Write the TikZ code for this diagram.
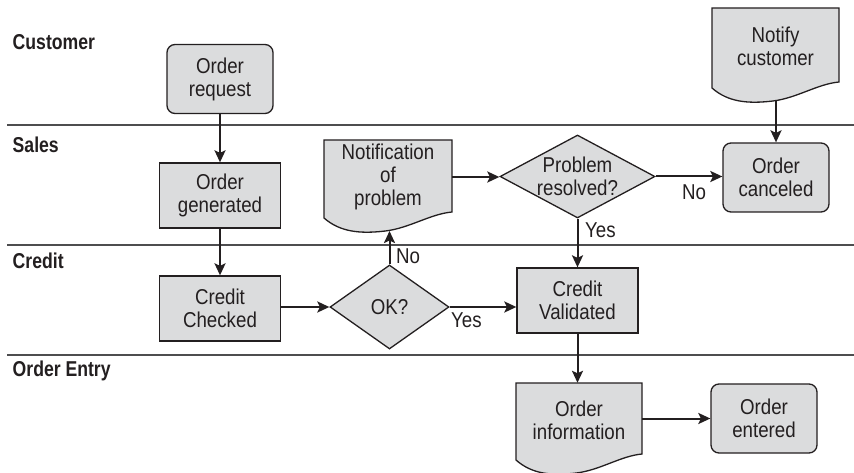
\documentclass[tikz,border=0pt]{standalone}
\usepackage{fontspec}
\usepackage{graphicx}
\setmainfont{Liberation Sans}
\newfontfamily\nodefontfam[FakeStretch=0.87]{Liberation Sans}
\usetikzlibrary{shapes.geometric,arrows.meta,calc}
\definecolor{boxfill}{HTML}{DBDCDD}
\definecolor{linecol}{HTML}{231F20}
\definecolor{lanecol}{HTML}{4D4D4F}
\newcommand\nodetxt{\nodefontfam\fontsize{21.5}{23}\selectfont}
\newcommand\lanetxt{\bfseries\fontsize{21.5}{23}\selectfont}
\newcommand\lanetext[1]{\scalebox{0.82}[1]{#1}}
\newcommand\DocShape[4]{% x0 x1 top ybottom
  \pgfmathsetmacro\dw{#2-#1}
  \filldraw[docbox] (#1,#3) -- (#2,#3) -- (#2,#4-6)
    .. controls (#1+0.83*\dw,#4-4) and (#1+0.67*\dw,#4+10) .. (#1+0.48*\dw,#4+13)
    .. controls (#1+0.28*\dw,#4+16) and (#1+0.125*\dw,#4+14) .. (#1,#4) -- cycle;}
\tikzset{
  proc/.style={draw=linecol, fill=boxfill, line width=1.3pt, minimum width=121pt,
    minimum height=65pt, inner sep=0pt, align=center, font=\nodetxt, text=linecol},
  term/.style={proc, rounded corners=8pt, minimum width=106pt, minimum height=69pt},
  dec/.style={diamond, draw=linecol, fill=boxfill, line width=1.3pt, inner sep=0pt},
  doctext/.style={inner sep=0pt, align=center, font=\nodetxt, text=linecol},
  docbox/.style={draw=linecol, fill=boxfill, line width=1.3pt},
  flow/.style={draw=linecol, line width=2pt, -{Stealth[length=12pt,width=11pt,inset=2.5pt]}},
  lane/.style={draw=lanecol, line width=1.5pt},
  lanelabel/.style={anchor=base west, font=\lanetxt, inner sep=0pt, text=linecol},
  cond/.style={anchor=base west, font=\nodetxt, inner sep=0pt, text=linecol}
}
\begin{document}
\begin{tikzpicture}[x=1pt,y=-1pt]
\useasboundingbox (0,0) rectangle (854,473);
% lanes
\draw[lane] (7,125) -- (854,125);
\draw[lane] (7,245) -- (854,245);
\draw[lane] (7,355) -- (854,355);
\node[lanelabel] (lcust) at (12.5,50) {\lanetext{Customer}};
\node[lanelabel] (lsales) at (12.5,152.5) {\lanetext{Sales}};
\node[lanelabel] (lcred) at (12.5,269) {\lanetext{Credit}};
\node[lanelabel] (lentry) at (12.5,376.5) {\lanetext{Order Entry}};
% document shapes
\DocShape{324}{452}{140}{218}
\DocShape{712}{839}{8}{88}
\DocShape{516}{642}{383}{460}
\node[doctext, minimum width=128pt, minimum height=74pt] (notif) at (388,177) {Notification\\of\\problem};
\coordinate (notifb) at (389,231);
\node[doctext, minimum width=127pt, minimum height=76pt] (notify) at (775.5,46) {Notify\\customer};
\coordinate (notifyb) at (776,100);
\node[doctext, minimum width=126pt, minimum height=74pt] (info) at (579,420) {Order\\information};
% process nodes
\node[term] (req) at (220,79) {Order\\request};
\node[proc] (gen) at (220,195.5) {Order\\generated};
\node[proc] (chk) at (220,308.5) {Credit\\Checked};
\node[dec, minimum width=119pt, minimum height=84pt,
  label={[font=\nodetxt, text=linecol]center:OK?}] (ok) at (389.5,307) {};
\node[dec, minimum width=155pt, minimum height=83pt,
  label={[font=\nodetxt, text=linecol, align=center]center:Problem\\resolved?}] (prob) at (577.5,176.5) {};
\node[term] (cancel) at (776,177.5) {Order\\canceled};
\node[proc] (val) at (577.5,300.5) {Credit\\Validated};
\node[term] (entered) at (764,418.5) {Order\\entered};
% connectors
\draw[flow] (req) -- (gen);
\draw[flow] (gen) -- (chk);
\draw[flow] (chk.east |- ok.west) -- (ok.west);
\draw[flow] (ok.north) -- (ok.north |- notifb);
\draw[flow] (notif.east) -- (notif.east -| prob.west);
\draw[flow] (prob.east) -- (prob.east -| cancel.west);
\draw[flow] (notifyb) -- (notifyb |- cancel.north);
\draw[flow] (prob.south) -- (prob.south |- val.north);
\draw[flow] (ok.east) -- (ok.east -| val.west);
\draw[flow] (val.south) -- (val.south |- info.north);
\draw[flow] (info.east |- entered.west) -- (entered.west);
% condition labels
\node[cond] (nook) at (396,263) {No};
\node[cond] (yesok) at (451,327) {Yes};
\node[cond] (noprob) at (682,200) {No};
\node[cond] (yesprob) at (585,237) {Yes};
\end{tikzpicture}
\end{document}
